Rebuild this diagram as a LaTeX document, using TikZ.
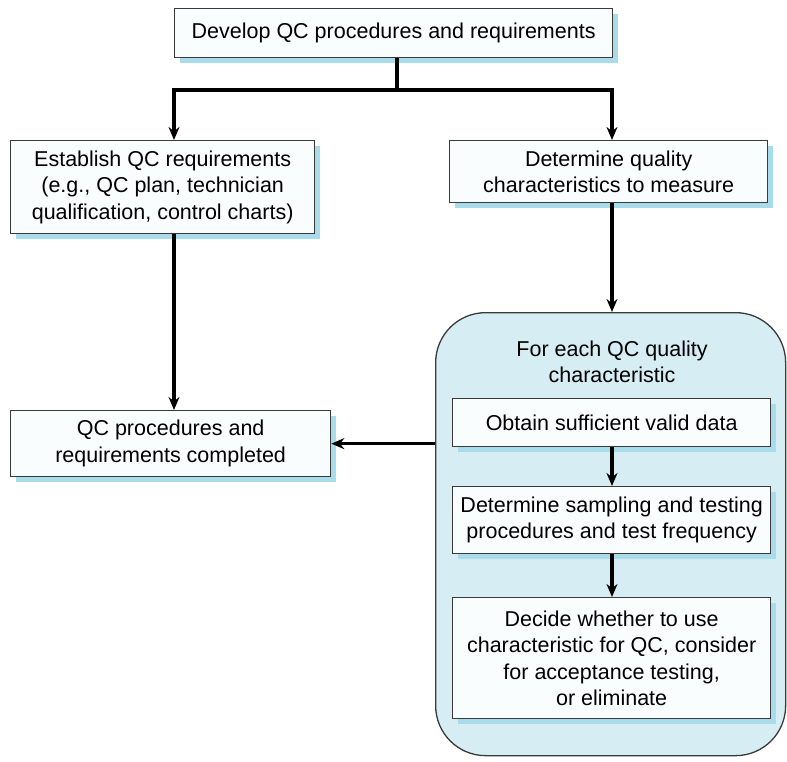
\documentclass[tikz,border=0pt]{standalone}
\usepackage{fontspec}
\setmainfont{Liberation Sans}
\usetikzlibrary{arrows.meta,shadows}
\definecolor{shade}{HTML}{A9DCEA}
\definecolor{panel}{HTML}{D5EDF3}
\definecolor{boxfill}{HTML}{FAFDFE}
\definecolor{edge}{HTML}{3A3A3A}
\tikzset{
  stepbox/.style={draw=edge, line width=1.3pt, fill=boxfill, align=center,
    inner sep=0pt, anchor=north west,
    drop shadow={shadow xshift=5pt, shadow yshift=-5pt, fill=shade, opacity=1},
    font=\fontsize{21.5}{26.5}\selectfont},
  flow/.style={line width=3.2pt, draw=black, -{Stealth[length=13pt,width=11pt]}},
  plain/.style={line width=3.2pt, draw=black}
}
\begin{document}
\begin{tikzpicture}[x=1pt,y=-1pt]
\useasboundingbox (0,0) rectangle (787,762);
% container for the per-characteristic loop
\node (loop) [draw=edge, line width=1.3pt, fill=panel, rounded corners=50pt,
  minimum width=350pt, minimum height=443pt, anchor=north west, inner sep=0pt] at (435,312) {};
\node (looptitle) [align=center, font=\fontsize{21.5}{26.5}\selectfont] at (612,362)
  {For each QC quality\\characteristic};

\node (top) [stepbox, minimum width=438pt, minimum height=49pt] at (174,8)
  {Develop QC procedures and requirements};
\node (est) [stepbox, minimum width=304pt, minimum height=93pt] at (10,140)
  {Establish QC requirements\\(e.g., QC plan, technician\\qualification, control charts)};
\node (det) [stepbox, minimum width=318pt, minimum height=62pt] at (449,140)
  {Determine quality\\characteristics to measure};
\node (done) [stepbox, minimum width=320pt, minimum height=66pt] at (10,410)
  {QC procedures and\\requirements completed};
\node (obtain) [stepbox, minimum width=318pt, minimum height=48pt] at (452,398)
  {Obtain sufficient valid data};
\node (samp) [stepbox, minimum width=318pt, minimum height=67pt] at (452,486)
  {Determine sampling and testing\\procedures and test frequency};
\node (decide) [stepbox, minimum width=318pt, minimum height=121pt] at (452,597)
  {Decide whether to use\\characteristic for QC, consider\\for acceptance testing,\\or eliminate};

% branching from the top step
\coordinate (split) at (397,90);
\coordinate (splitL) at (174,90);
\coordinate (splitR) at (612,90);
\draw[plain] (top.south -| split) -- (split);
\draw[plain, line cap=rect] (splitL) -- (splitR);
\draw[flow] (splitL) -- (est.north -| splitL);
\draw[flow] (splitR) -- (det.north -| splitR);

\draw[flow] (est.south -| splitL) -- (done.north -| splitL);
\draw[flow] (det.south -| splitR) -- (loop.north -| splitR);
\draw[flow] (loop.west |- done.east) -- (done.east);
\draw[flow] (obtain.south -| splitR) -- (samp.north -| splitR);
\draw[flow] (samp.south -| splitR) -- (decide.north -| splitR);
\end{tikzpicture}
\end{document}
